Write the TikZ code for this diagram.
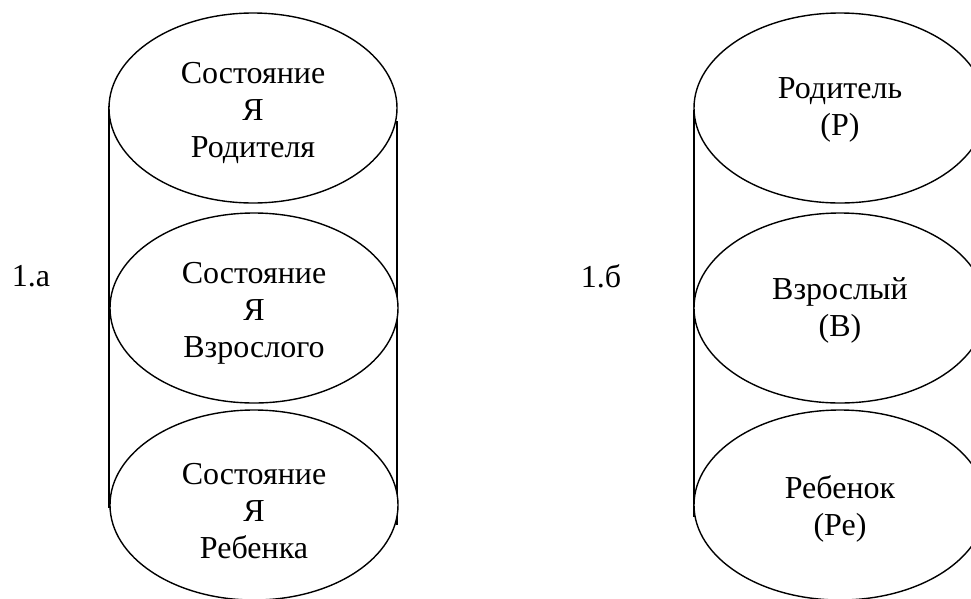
\documentclass[tikz,border=0pt]{standalone}
\usepackage{fontspec}
\setmainfont{Liberation Serif}
\newfontfamily\tnr{Liberation Serif}
\usetikzlibrary{shapes.geometric}
\begin{document}
\begin{tikzpicture}[x=1pt,y=-1pt,
  ego/.style={ellipse,draw,line width=1.4pt,fill=white,inner sep=0pt,
    minimum width=290pt,minimum height=190pt},
  txt/.style={align=center,inner sep=0pt,font=\tnr\fontsize{32}{37}\selectfont},
  side/.style={line width=1.6pt},
  lbl/.style={font=\tnr\fontsize{32}{37}\selectfont,inner sep=0pt}]
\useasboundingbox (0,0) rectangle (971,598);
\clip (0,0) rectangle (971,598);
% left figure
\coordinate (aL1) at (109,106);
\coordinate (aL2) at (109,508);
\coordinate (aR1) at (397,121);
\coordinate (aR2) at (397,525);
\draw[side] (aL1) -- (aL2);
\draw[side] (aR1) -- (aR2);
\node[ego,minimum width=288pt] (aP) at (253,108) {};
\node[ego,minimum width=288pt] (aA) at (254,308) {};
\node[ego,minimum width=288pt] (aC) at (254,505) {};
\node[txt] (aPt) at ([yshift=-5pt]aP.center) {Состояние\\Я\\Родителя};
\node[txt] (aAt) at ([yshift=-5pt]aA.center) {Состояние\\Я\\Взрослого};
\node[txt] (aCt) at ([yshift=-6pt]aC.center) {Состояние\\Я\\Ребенка};
% right figure
\coordinate (bL1) at (694,110);
\coordinate (bL2) at (694,517);
\draw[side] (bL1) -- (bL2);
\node[ego,minimum width=292pt] (bP) at (840,108) {};
\node[ego,minimum width=292pt] (bA) at (840,308) {};
\node[ego,minimum width=292pt] (bC) at (840,505) {};
\node[txt] (bPt) at ([yshift=-2pt]bP.center) {Родитель\\(Р)};
\node[txt] (bAt) at ([yshift=-2pt]bA.center) {Взрослый\\(В)};
\node[txt] (bCt) at ([yshift=-4pt]bC.center) {Ребенок\\(Ре)};
% labels
\node[lbl] (la) at (31,276) {1.а};
\node[lbl] (lb) at (601,276) {1.б};
\end{tikzpicture}
\end{document}
